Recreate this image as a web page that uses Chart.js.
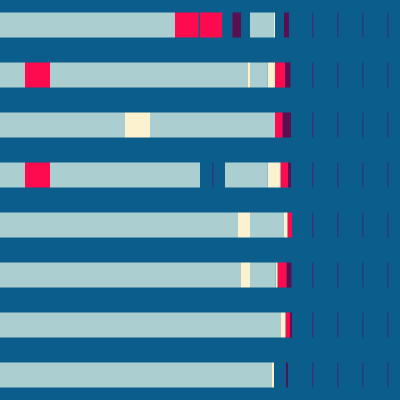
<!DOCTYPE html>
<html>
<head>
<meta charset="utf-8">
<script src="https://cdn.jsdelivr.net/npm/chart.js@4/dist/chart.umd.min.js"></script>
<style>
  html, body { margin: 0; padding: 0; background: #0b5d8b; }
  #wrap { width: 400px; height: 400px; }
</style>
</head>
<body>
<div id="wrap"><canvas id="c" width="400" height="400"></canvas></div>
<script>
const categories = ['1', '2', '3', '4', '5', '6', '7', '8'];

const tail = [23.5, 1.5, 23.5, 1.5, 23.5, 1.5];
const tailKeys = ['gap', 'line', 'gap', 'line', 'gap', 'line'];

const row1Values = [175, 23.5, 1.5, 22, 10.5, 8.5, 9, 24, 1, 9, 5, 23, 1.5];
const row1Keys   = ['light', 'red', 'gap', 'red', 'gap', 'plum', 'gap', 'light', 'cream', 'gap', 'plum', 'gap', 'line'];

const row2Values = [25, 25, 198, 2, 17.5, 7.5, 10, 5.5, 21.5, 1.5];
const row2Keys   = ['light', 'red', 'light', 'cream', 'light', 'cream', 'red', 'plum', 'gap', 'line'];

const row3Values = [125, 25, 125, 7.5, 8.5, 21, 1.5];
const row3Keys   = ['light', 'cream', 'light', 'red', 'plum', 'gap', 'line'];

const row4Values = [25, 25, 150, 12, 1.5, 11.5, 42.5, 13, 7.5, 3, 21, 1.5];
const row4Keys   = ['light', 'red', 'light', 'gap', 'line', 'gap', 'light', 'cream', 'red', 'plum', 'gap', 'line'];

const row5Values = [238, 12, 34, 3.5, 4.5, 20, 1.5];
const row5Keys   = ['light', 'cream', 'light', 'cream', 'red', 'gap', 'line'];

const row6Values = [241, 9, 25.5, 2, 9, 5, 20.5, 1.5];
const row6Keys   = ['light', 'cream', 'light', 'cream', 'red', 'plum', 'gap', 'line'];

const row7Values = [281, 4.5, 4.5, 2, 20, 1.5];
const row7Keys   = ['light', 'cream', 'red', 'plum', 'gap', 'line'];

const row8Values = [272, 2, 12, 2, 24, 1.5];
const row8Keys   = ['light', 'cream', 'gap', 'plum', 'gap', 'line'];

const palette = {
  light: '#abcfd0',
  red: '#fd0a4f',
  cream: '#fdf2cf',
  plum: '#5c0f50',
  line: '#2b3a80',
  gap: 'rgba(0,0,0,0)'
};

const rows = [
  [row1Values, row1Keys], [row2Values, row2Keys], [row3Values, row3Keys], [row4Values, row4Keys],
  [row5Values, row5Keys], [row6Values, row6Keys], [row7Values, row7Keys], [row8Values, row8Keys]
].map(([v, k]) => ({ values: v.concat(tail), keys: k.concat(tailKeys) }));

const maxLen = Math.max(...rows.map(r => r.values.length));
const datasets = [];
for (let i = 0; i < maxLen; i++) {
  datasets.push({
    data: rows.map(r => (r.values[i] !== undefined ? r.values[i] : 0)),
    backgroundColor: rows.map(r => palette[r.keys[i]] || 'rgba(0,0,0,0)'),
    borderWidth: 0,
    barPercentage: 0.5,
    categoryPercentage: 1
  });
}

new Chart(document.getElementById('c'), {
  type: 'bar',
  data: { labels: categories, datasets },
  options: {
    indexAxis: 'y',
    responsive: false,
    animation: false,
    layout: { padding: 0 },
    plugins: { legend: { display: false }, tooltip: { enabled: false } },
    scales: {
      x: { stacked: true, min: 0, max: 400, display: false },
      y: { stacked: true, display: false }
    }
  }
});
</script>
</body>
</html>
